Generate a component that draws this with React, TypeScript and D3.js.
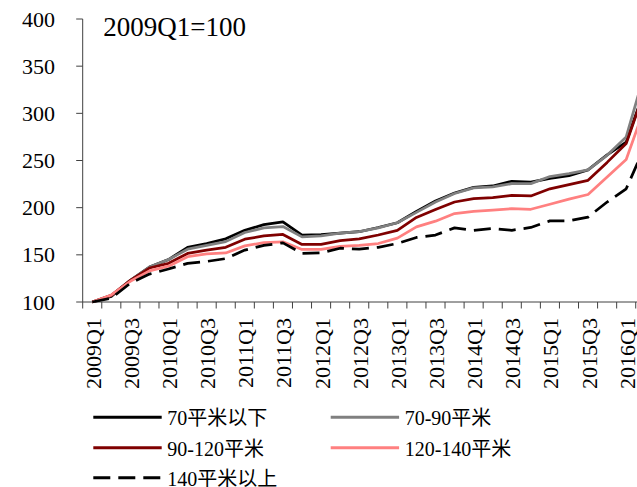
import React from "react";
import { scaleBand, scaleLinear, line } from "d3";

const quarters = [
  "2009Q1", "2009Q2", "2009Q3", "2009Q4",
  "2010Q1", "2010Q2", "2010Q3", "2010Q4",
  "2011Q1", "2011Q2", "2011Q3", "2011Q4",
  "2012Q1", "2012Q2", "2012Q3", "2012Q4",
  "2013Q1", "2013Q2", "2013Q3", "2013Q4",
  "2014Q1", "2014Q2", "2014Q3", "2014Q4",
  "2015Q1", "2015Q2", "2015Q3", "2015Q4",
  "2016Q1", "2016Q2",
];

const below70 = [100, 106, 123, 137, 145, 158, 162, 167, 176, 182, 185, 171, 171.5, 173, 174.5, 179, 184, 196, 207, 215.5, 221.5, 223, 228, 227, 231, 234, 240, 256, 269.5, 327];
const s70to90 = [100, 107, 123, 137, 145, 156, 160, 164, 173.7, 178.6, 180, 169, 170, 173, 174.5, 178.6, 184, 195, 206, 215, 221, 222, 225.5, 225.5, 233, 236, 240, 255.5, 275, 345];
const s90to120 = [100, 107, 123, 136, 141, 151.5, 155, 158, 166.6, 170, 171.6, 161, 161, 165, 167, 171, 176, 189.6, 198, 206, 209.6, 210.7, 213, 212.4, 220, 224.5, 229, 248, 268, 326];
const s120to140 = [100, 107.5, 122, 133, 138, 148, 151, 152, 159.5, 163, 163.8, 155.7, 155.7, 159, 160, 162, 167.7, 179.6, 185.7, 193.8, 196, 197.3, 199, 198.3, 203.6, 209, 214, 232.5, 251, 308];
const above140 = [100, 104, 120, 129.6, 135, 141, 143, 146, 155, 160, 162.7, 151.5, 152, 157, 156, 158, 162, 168.4, 171, 178.6, 176, 178, 176, 179, 186, 186, 190, 206, 220, 266];

const yTicks = [100, 150, 200, 250, 300, 350, 400];

const series = [
  { name: "70平米以下", values: below70, color: "#000000", dash: null },
  { name: "70-90平米", values: s70to90, color: "#808080", dash: null },
  { name: "90-120平米", values: s90to120, color: "#7f0000", dash: null },
  { name: "120-140平米", values: s120to140, color: "#ff8080", dash: null },
  { name: "140平米以上", values: above140, color: "#000000", dash: "17,8" },
];

const W = 637;
const H = 487;
const left = 82.7;
const step = 19.07;
const serif = '"Liberation Serif", "Times New Roman", Times, "Noto Sans CJK SC", serif';

export default function App() {
  const x = scaleBand<string>()
    .domain(quarters)
    .range([left, left + step * quarters.length])
    .paddingInner(0)
    .paddingOuter(0);
  const y = scaleLinear().domain([100, 400]).range([302, 19]);
  const cx = (q: string) => (x(q) as number) + x.bandwidth() / 2;

  const gen = line<number>()
    .x((_, i) => cx(quarters[i]))
    .y(d => y(d));

  const boundaries = quarters.map(q => x(q) as number).concat([left + step * quarters.length]);

  const legendPos = [
    { lx: 93.3, ty: 417.3 },
    { lx: 330.7, ty: 417.3 },
    { lx: 93.3, ty: 447.7 },
    { lx: 330.7, ty: 447.7 },
    { lx: 93.3, ty: 477.7 },
  ];

  const txt = { fontFamily: serif };

  return (
    <svg width={W} height={H} style={{ position: "absolute", left: 0, top: 0, background: "#fff", fontFamily: serif }}>
      {/* y axis */}
      <line x1={left} x2={left} y1={y(400)} y2={y(100)} stroke="#404040" strokeWidth={1} />
      {yTicks.map(t => (
        <g key={t}>
          <line x1={left - 6.5} x2={left} y1={y(t)} y2={y(t)} stroke="#404040" strokeWidth={1} />
          <text x={55} y={y(t)} textAnchor="end" dominantBaseline="central" fontSize={22} fill="#000" style={txt}>
            {t}
          </text>
        </g>
      ))}

      {/* x axis */}
      <line x1={left} x2={W + 30} y1={y(100)} y2={y(100)} stroke="#404040" strokeWidth={1} />
      {boundaries.map((b, i) => (
        <line key={i} x1={b} x2={b} y1={y(100)} y2={y(100) + 6.5} stroke="#404040" strokeWidth={1} />
      ))}
      {quarters.map((q, i) =>
        i % 2 === 0 ? (
          <text
            key={q}
            transform={`translate(${cx(q) + 1},318) rotate(-90)`}
            textAnchor="end"
            dominantBaseline="central"
            fontSize={22}
            fill="#000"
            style={txt}
          >
            {q}
          </text>
        ) : null
      )}

      {/* series */}
      {series.map(s => (
        <path
          key={s.name}
          d={gen(s.values) || ""}
          fill="none"
          stroke={s.color}
          strokeWidth={2.75}
          strokeDasharray={s.dash || undefined}
          strokeLinejoin="round"
        />
      ))}

      <text x={103.3} y={36} fontSize={27} fill="#000" style={txt}>2009Q1=100</text>

      {/* legend */}
      {series.map((s, i) => {
        const p = legendPos[i];
        return (
          <g key={s.name}>
            <line
              x1={p.lx}
              x2={p.lx + 68.4}
              y1={p.ty}
              y2={p.ty}
              stroke={s.color}
              strokeWidth={3}
              strokeDasharray={s.dash || undefined}
            />
            <text x={p.lx + 74} y={p.ty + 1} dominantBaseline="central" fontSize={20} fill="#000" style={txt}>
              {s.name}
            </text>
          </g>
        );
      })}
    </svg>
  );
}
